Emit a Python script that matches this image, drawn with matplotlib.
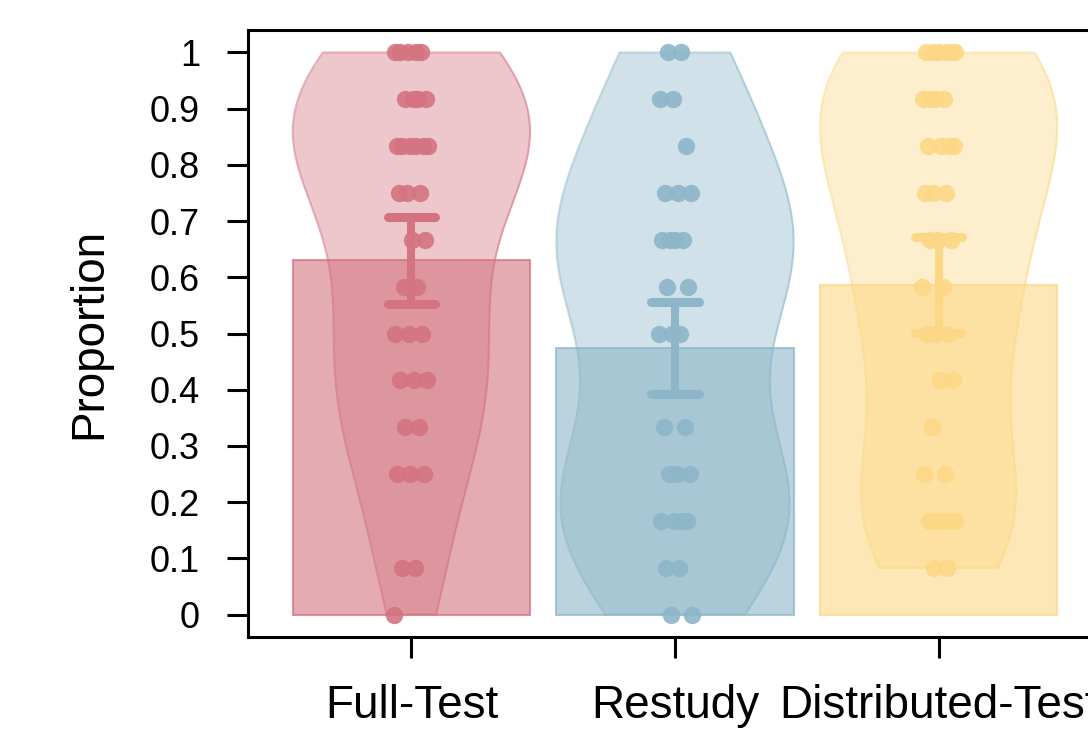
import numpy as np
import matplotlib.pyplot as plt

plt.rcParams['font.family'] = ['Liberation Sans', 'DejaVu Sans']

# proportion correct, scored out of 12 items
groups = ['Full-Test', 'Restudy', 'Distributed-Test']
levels = np.arange(13) / 12

# number of participants at each score level (0/12 ... 12/12)
full_counts = [1, 2, 0, 3, 2, 3, 3, 2, 2, 3, 6, 4, 5]
restudy_counts = [2, 2, 4, 3, 2, 0, 3, 2, 4, 3, 1, 2, 2]
dist_counts = [0, 2, 5, 2, 1, 2, 3, 2, 3, 3, 4, 4, 6]

means = [0.630, 0.474, 0.586]
ci_low = [0.553, 0.392, 0.501]
ci_high = [0.708, 0.556, 0.672]

colors = ['#D37480', '#8DB6C9', '#FCD886']


def bw_nrd0(v):
    sd = np.std(v, ddof=1)
    iqr = np.subtract(*np.percentile(v, [75, 25]))
    lo = min(sd, iqr / 1.34)
    if lo == 0:
        lo = sd
    return 0.9 * lo * len(v) ** -0.2


def density(v, grid):
    bw = bw_nrd0(v)
    z = (grid[:, None] - v[None, :]) / bw
    return np.exp(-0.5 * z ** 2).sum(axis=1) / (len(v) * bw * np.sqrt(2 * np.pi))


fig = plt.figure(figsize=(10.88, 7.33), dpi=100)
ax = fig.add_axes([248 / 1088, 96 / 733, 854 / 1088, 607 / 733])

bar_w = 0.9
for i, counts in enumerate([full_counts, restudy_counts, dist_counts]):
    xc = i + 1
    col = colors[i]
    vals = np.repeat(levels, counts)

    # bar for the mean
    ax.bar(xc, means[i], width=bar_w, facecolor=col, alpha=0.6, edgecolor='none', zorder=1)
    ax.bar(xc, means[i], width=bar_w, facecolor='none', edgecolor=col, alpha=0.75,
           linewidth=1.5, zorder=1.1)

    # bean, cut at the data range
    grid = np.linspace(vals.min(), vals.max(), 300)
    d = density(vals, grid)
    half = d / d.max() * bar_w / 2
    ax.fill_betweenx(grid, xc - half, xc + half, color=col, alpha=0.4, linewidth=0, zorder=2)
    ox = np.concatenate([xc - half, (xc + half)[::-1], [xc - half[0]]])
    oy = np.concatenate([grid, grid[::-1], [grid[0]]])
    ax.plot(ox, oy, color=col, alpha=0.55, linewidth=1.5, zorder=2.1)

    # raw points with a small spread
    offs = ((np.arange(len(vals)) * 0.618034 + 0.37 * i) % 1 - 0.5) * 0.13
    ax.plot(xc + offs, vals, 'o', color=col, markersize=12.5, markeredgewidth=0,
            alpha=0.9, zorder=3)

    # confidence interval
    cap = 0.09
    ax.plot([xc, xc], [ci_low[i], ci_high[i]], color=col, linewidth=5.8, zorder=4)
    for yv in (ci_low[i], ci_high[i]):
        ax.plot([xc - cap, xc + cap], [yv, yv], color=col, linewidth=6.5,
                solid_capstyle='round', zorder=4)

ax.set_xlim(0.38, 3.62)
ax.set_ylim(-0.04, 1.04)
ax.set_xticks([1, 2, 3])
ax.set_xticklabels(groups, fontsize=33)
yt = np.round(np.arange(0, 1.01, 0.1), 1)
ax.set_yticks(yt)
ax.set_yticklabels(['0' if v == 0 else '1' if v == 1 else f'{v:g}' for v in yt], fontsize=26)
ax.tick_params(axis='both', direction='out', length=15, width=2.2, color='black')
ax.tick_params(axis='y', pad=19.5)
ax.tick_params(axis='x', pad=18.5)
for sp in ax.spines.values():
    sp.set_linewidth(2.2)
ax.set_ylabel('Proportion', fontsize=33, labelpad=28)

fig.savefig('out.png', dpi=100)
